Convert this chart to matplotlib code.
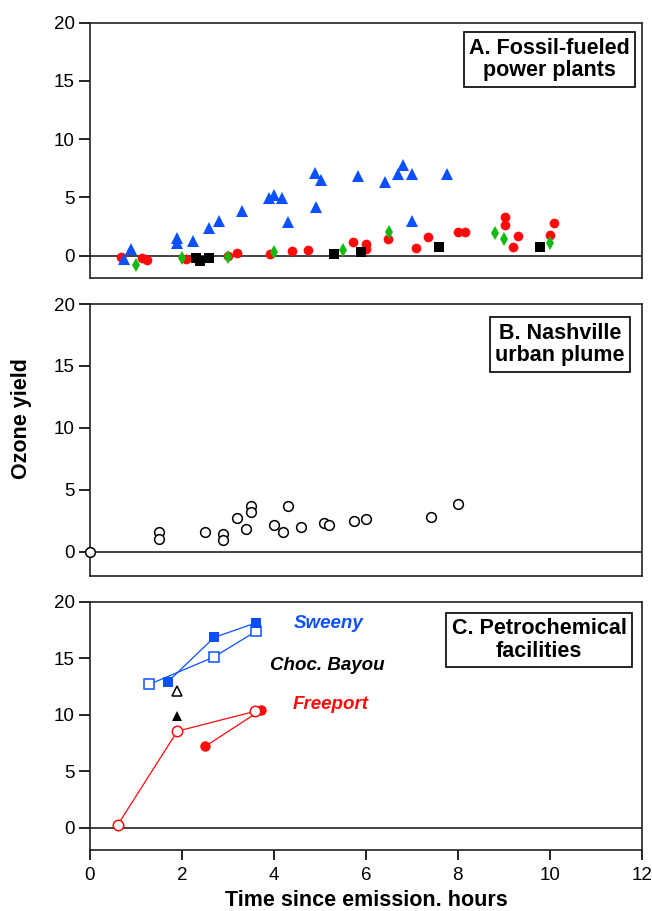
import matplotlib
matplotlib.use("Agg")
import matplotlib.pyplot as plt
import numpy as np

plt.rcParams['font.family'] = ['Liberation Sans', 'DejaVu Sans']

blue = '#0a50ff'
red = '#ff0a0a'
green = '#12bb12'

# panel A: fossil-fueled power plants
a_tri_x = [0.73, 0.89, 1.90, 1.90, 2.25, 2.60, 2.81, 3.30, 3.89, 4.00, 4.18, 4.31,
           4.90, 4.91, 5.03, 5.83, 6.41, 6.70, 6.81, 7.01, 7.01, 7.77]
a_tri_y = [-0.31, 0.57, 1.55, 1.10, 1.29, 2.35, 2.95, 3.84, 4.98, 5.21, 4.93, 2.87,
           7.08, 4.21, 6.48, 6.87, 6.35, 7.01, 7.79, 7.01, 2.98, 7.01]
a_circ_x = [0.67, 1.13, 1.25, 2.08, 3.00, 3.20, 3.92, 4.40, 4.75, 5.73, 6.01, 6.01,
            6.48, 7.10, 7.36, 8.00, 8.16, 9.02, 9.02, 9.32, 9.21, 10.09, 10.01]
a_circ_y = [-0.14, -0.22, -0.37, -0.31, -0.03, 0.20, 0.15, 0.43, 0.52, 1.13, 0.98, 0.55,
            1.41, 0.63, 1.63, 2.00, 2.00, 3.30, 2.64, 1.69, 0.75, 2.78, 1.78]
a_dia_x = [1.00, 2.00, 3.00, 4.00, 5.50, 6.51, 8.81, 9.00, 10.01]
a_dia_y = [-0.80, -0.17, -0.09, 0.29, 0.49, 2.00, 1.92, 1.41, 1.12]
a_sq_x = [2.31, 2.40, 2.60, 5.31, 5.90, 7.60, 9.80]
a_sq_y = [-0.17, -0.43, -0.17, 0.15, 0.27, 0.77, 0.77]

# panel B: Nashville urban plume
b_x = [0.00, 1.50, 1.50, 2.51, 2.90, 2.90, 3.20, 3.40, 3.50, 3.50, 4.01, 4.20,
       4.31, 4.60, 5.10, 5.20, 5.75, 6.01, 7.41, 8.00]
b_y = [0.00, 1.62, 1.05, 1.62, 1.45, 0.94, 2.70, 1.81, 3.69, 3.21, 2.16, 1.62,
       3.72, 2.02, 2.34, 2.16, 2.50, 2.62, 2.80, 3.88]

# panel C: petrochemical facilities
sw_fill_x = [1.69, 2.70, 3.62]
sw_fill_y = [12.90, 16.84, 18.14]
sw_open_x = [1.29, 2.70, 3.62]
sw_open_y = [12.69, 15.12, 17.40]
cb_open_x, cb_open_y = [1.90], [12.07]
cb_fill_x, cb_fill_y = [1.90], [9.88]
fp_open_x = [0.60, 1.90, 3.60]
fp_open_y = [0.24, 8.55, 10.32]
fp_fill_x = [2.51, 3.71]
fp_fill_y = [7.22, 10.39]

fig = plt.figure(figsize=(6.52, 9.11), dpi=100)
axA = fig.add_axes([0.138, 0.6945, 0.846, 0.2806])
axB = fig.add_axes([0.138, 0.368, 0.846, 0.2982])
axC = fig.add_axes([0.138, 0.067, 0.846, 0.2725])

for ax in (axA, axB, axC):
    ax.set_xlim(0, 12)
    ax.set_ylim(-1.95, 20)
    ax.set_yticks([0, 5, 10, 15, 20])
    ax.set_xticks([0, 2, 4, 6, 8, 10, 12])
    ax.axhline(0, color='#222222', lw=1.2, zorder=1)
    for s in ax.spines.values():
        s.set_linewidth(1.2)
        s.set_color('#222222')
    ax.tick_params(axis='y', direction='out', length=8, width=1.2, labelsize=13.5, pad=3)
    ax.tick_params(axis='x', direction='out', length=7, width=1.2, labelsize=13.5, pad=5)

for ax in (axA, axB):
    ax.tick_params(axis='x', bottom=False, labelbottom=False)

box = dict(boxstyle='square,pad=0.25', fc='white', ec='black', lw=1.2)

# A
axA.plot(a_circ_x, a_circ_y, 'o', color=red, ms=7, mew=0, zorder=3)
axA.plot(a_sq_x, a_sq_y, 's', color='black', ms=7.5, mew=0, zorder=4)
axA.plot(a_dia_x, a_dia_y, 'd', color=green, ms=7.5, mew=0, zorder=5)
axA.plot(a_tri_x, a_tri_y, '^', color=blue, ms=8.5, mew=0, zorder=6)
axA.text(10.0, 16.84, 'A. Fossil-fueled\npower plants', ha='center', va='center',
         fontsize=15.5, fontweight='bold', linespacing=1.1, bbox=box)

# B
axB.plot(b_x, b_y, 'o', mfc='white', mec='black', ms=7, mew=1.1, clip_on=False, zorder=3)
axB.text(10.23, 16.74, 'B. Nashville\nurban plume', ha='center', va='center',
         fontsize=15.5, fontweight='bold', linespacing=1.1, bbox=box)

# C
axC.plot(sw_open_x, sw_open_y, 's-', color=blue, mfc='white', mec=blue, ms=7.5, mew=1.1, lw=0.9, zorder=3)
axC.plot(sw_fill_x, sw_fill_y, 's-', color=blue, ms=7.5, mew=0, lw=0.9, zorder=4)
axC.plot(cb_open_x, cb_open_y, '^', mfc='white', mec='black', ms=7, mew=1.1, zorder=3)
axC.plot(cb_fill_x, cb_fill_y, '^', color='black', ms=7, mew=0, zorder=3)
axC.plot(fp_fill_x, fp_fill_y, 'o-', color=red, ms=7.5, mew=0, lw=0.9, zorder=3)
axC.plot(fp_open_x, fp_open_y, 'o-', color=red, mfc='white', mec=red, ms=7.5, mew=1.1, lw=0.9, zorder=4)
axC.text(5.19, 18.1, 'Sweeny', color=blue, ha='center', va='center', fontsize=13.5,
         fontweight='bold', fontstyle='italic')
axC.text(5.16, 14.4, 'Choc. Bayou', color='black', ha='center', va='center', fontsize=13.5,
         fontweight='bold', fontstyle='italic')
axC.text(5.23, 10.9, 'Freeport', color=red, ha='center', va='center', fontsize=13.5,
         fontweight='bold', fontstyle='italic')
axC.text(9.77, 16.6, 'C. Petrochemical\nfacilities', ha='center', va='center',
         fontsize=15.5, fontweight='bold', linespacing=1.1, bbox=box)

fig.text(21.7 / 652, 1 - 419 / 911, 'Ozone yield', rotation=90, ha='center', va='center',
         fontsize=15.5, fontweight='bold')
fig.text(366 / 652, 1 - 901 / 911, 'Time since emission. hours', ha='center', va='center',
         fontsize=15.5, fontweight='bold')

fig.savefig('out.png', dpi=100)
